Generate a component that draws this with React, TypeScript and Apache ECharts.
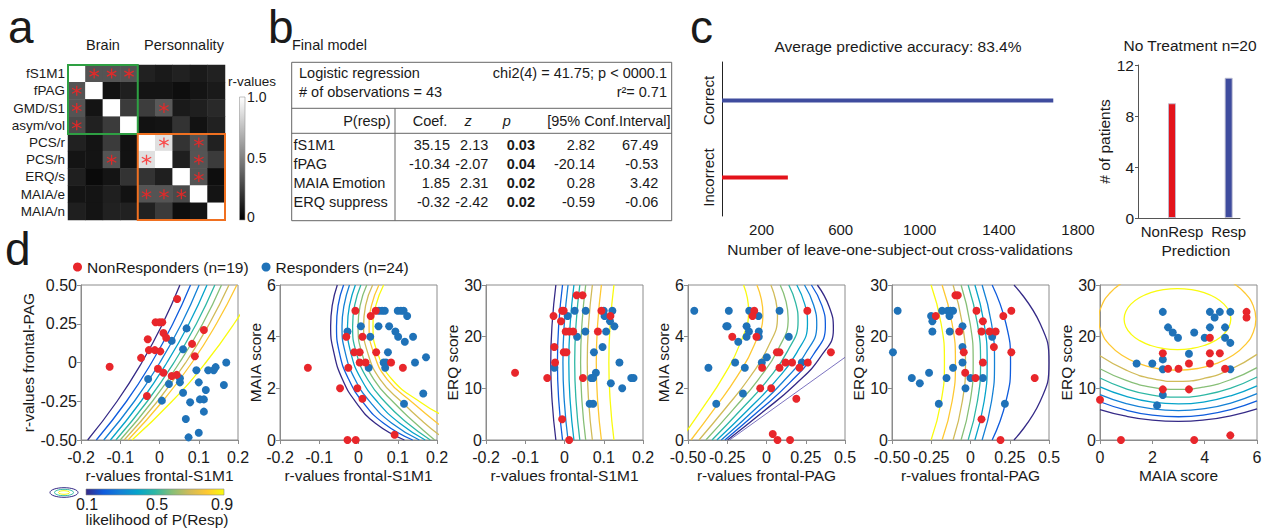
import React, { useEffect, useRef } from 'react';
import * as echarts from 'echarts';

const FONT = 'Arial, "Liberation Sans", Helvetica, sans-serif';
const INK = '#1a1a1a';
const AXIS_GRAY = '#8c8c8c';
const RED = '#e8262b';
const BLUE = '#1f72b8';
const BAR_RED = '#e3131b';
const BAR_BLUE = '#3f4c9e';
// six-armed asterisk used to flag significant cells
const ASTERISK = 'path://M44 0L56 0L56 100L44 100ZM3.7 30.2L9.7 19.8L96.3 69.8L90.3 80.2ZM90.3 19.8L96.3 30.2L9.7 80.2L3.7 69.8Z';

/* ---------- a : correlation matrix ---------- */
const measureNames = ['fS1M1', 'fPAG', 'GMD/S1', 'asym/vol', 'PCS/r', 'PCS/h', 'ERQ/s', 'MAIA/e', 'MAIA/n'];
const correlationRows = [
  [1, 0.33, 0.33, 0.33, 0.13, 0.1, 0.13, 0.1, 0.13],
  [0.33, 1, 0.07, 0.12, 0.08, 0.08, 0.055, 0.08, 0.1],
  [0.33, 0.08, 1, 0.23, 0.24, 0.35, 0.1, 0.12, 0.16],
  [0.29, 0.13, 0.23, 1, 0.07, 0.08, 0.2, 0.07, 0.13],
  [0.13, 0.08, 0.23, 0.07, 1, 0.88, 0.2, 0.33, 0.13],
  [0.08, 0.08, 0.33, 0.07, 0.88, 1, 0.12, 0.33, 0.23],
  [0.12, 0.04, 0.08, 0.2, 0.2, 0.12, 1, 0.33, 0.055],
  [0.08, 0.08, 0.12, 0.07, 0.33, 0.33, 0.29, 1, 0.08],
  [0.12, 0.08, 0.13, 0.13, 0.13, 0.23, 0.055, 0.08, 1],
];
// [column, row] of significant correlations
const significantPairs = [
  [1, 0], [2, 0], [3, 0], [0, 1], [0, 2], [5, 2], [0, 3], [5, 4], [7, 4],
  [2, 5], [4, 5], [7, 5], [7, 6], [4, 7], [5, 7], [6, 7],
];

/* ---------- b : logistic regression ---------- */
const modelTerms = ['fS1M1', 'fPAG', 'MAIA Emotion', 'ERQ suppress'];
const coefficients = [35.15, -10.34, 1.85, -0.32];
const zScores = [2.13, -2.07, 2.31, -2.42];
const pValues = [0.03, 0.04, 0.02, 0.02];
const ciLower = [2.82, -20.14, 0.28, -0.59];
const ciUpper = [67.49, -0.53, 3.42, -0.06];

/* ---------- c : cross-validation ---------- */
const validationOutcomes = ['Incorrect', 'Correct'];
const validationCounts = [333, 1675];
const predictionClasses = ['NonResp', 'Resp'];
const predictedPatients = [9, 11];

/* ---------- d : subjects ---------- */
const s1m1PagRed = [[0.045, 0.41], [-0.01, 0.26], [0.0, 0.26], [0.007, 0.26], [0.113, 0.21], [0.01, 0.19], [0.017, 0.16], [-0.03, 0.15], [0.083, 0.12], [-0.027, 0.08], [-0.012, 0.08], [0.002, 0.072], [-0.047, 0.03], [0.09, 0.04], [-0.127, -0.027], [-0.004, -0.04], [0.01, -0.066], [0.031, -0.087], [0.044, -0.08], [-0.032, -0.216]];
const s1m1PagBlue = [[0.069, 0.22], [0.031, 0.14], [0.06, 0.085], [0.17, 0.0], [0.094, -0.05], [0.124, -0.05], [0.138, -0.05], [0.143, -0.03], [-0.029, -0.106], [0.052, -0.102], [0.052, -0.128], [0.1, -0.128], [0.024, -0.139], [0.118, -0.177], [0.164, -0.145], [0.006, -0.246], [0.06, -0.195], [0.103, -0.238], [0.113, -0.238], [0.078, -0.257], [0.113, -0.317], [0.067, -0.364], [0.1, -0.453], [0.074, -0.483]];

const s1m1MaiaRed = [[-0.008, 5.0], [0.044, 5.0], [0.031, 4.8], [-0.031, 4.0], [0.01, 4.0], [-0.011, 3.4], [0.003, 3.4], [0.045, 3.4], [0.003, 3.0], [0.018, 3.0], [0.083, 3.0], [-0.129, 2.8], [-0.026, 2.8], [0.113, 2.8], [-0.047, 2.0], [-0.003, 2.0], [0.01, 1.6], [0.092, 0.2], [-0.028, 0], [-0.007, 0]];
const s1m1MaiaBlue = [[0.052, 5.0], [0.06, 5.0], [0.067, 5.0], [0.1, 5.0], [0.108, 5.0], [0.115, 5.0], [0.124, 4.8], [-0.028, 4.2], [0.006, 4.4], [0.051, 4.4], [0.078, 4.4], [0.094, 4.2], [0.101, 4.0], [0.118, 3.8], [0.03, 4.0], [0.139, 4.0], [0.075, 3.4], [0.172, 3.2], [0.064, 3.0], [0.07, 3.0], [0.144, 3.0], [0.026, 2.8], [0.068, 2.8], [0.165, 1.8], [0.116, 1.4]];

const s1m1ErqRed = [[0.031, 28], [0.046, 28], [-0.006, 25], [-0.002, 25], [0.094, 25], [0.117, 24], [-0.028, 24], [-0.009, 23], [0.003, 21], [0.012, 21], [0.022, 21], [0.085, 21], [-0.026, 18], [-0.002, 17], [0.005, 17], [-0.024, 15], [-0.126, 13], [-0.044, 12], [0.047, 12], [-0.006, 4], [0.012, 0]];
const s1m1ErqBlue = [[0.026, 25], [0.054, 25], [0.1, 25], [0.122, 25], [0.102, 24], [0.116, 23], [0.127, 22], [0.008, 24], [0.032, 20], [0.053, 21], [0.106, 21], [0.097, 18], [0.075, 17], [-0.026, 14], [0.08, 13], [0.068, 12], [0.073, 12], [0.17, 12], [0.176, 12], [0.14, 15], [0.118, 11], [0.147, 10], [0.064, 7], [0.073, 7]];

const pagMaiaRed = [[-0.078, 5.0], [-0.089, 4.8], [-0.064, 4.0], [-0.218, 4.0], [0.066, 3.4], [0.083, 3.4], [0.26, 5.0], [0.41, 3.4], [0.121, 3.0], [0.163, 3.0], [0.263, 3.0], [-0.028, 2.8], [0.083, 2.8], [0.21, 2.8], [-0.04, 2.0], [0.03, 2.0], [0.19, 1.6], [0.04, 0.23], [0.07, 0], [0.15, 0]];
const pagMaiaBlue = [[-0.46, 5.0], [-0.24, 5.0], [-0.11, 5.0], [0.083, 5.0], [-0.256, 4.4], [-0.248, 4.4], [-0.127, 4.4], [-0.112, 4.2], [-0.051, 4.8], [-0.049, 4.2], [-0.049, 4.0], [-0.127, 4.0], [0.142, 4.0], [-0.18, 3.8], [0.002, 3.2], [-0.03, 3.0], [-0.2, 3.0], [-0.37, 2.8], [-0.138, 2.8], [0.225, 3.0], [-0.15, 1.8], [-0.32, 1.4]];

const pagErqRed = [[-0.096, 28], [-0.081, 28], [-0.221, 24], [0.038, 25], [0.209, 24], [0.26, 25], [0.079, 23], [-0.072, 21], [0.07, 21], [0.121, 21], [0.16, 21], [-0.043, 17], [0.149, 18], [0.26, 17], [0.079, 15], [-0.034, 13], [0.032, 12], [0.409, 12], [0.07, 4], [0.191, 0]];
const pagErqBlue = [[-0.464, 25], [-0.494, 17], [-0.251, 24], [-0.243, 23], [-0.243, 21], [-0.181, 25], [-0.145, 25], [-0.128, 25], [-0.111, 25], [-0.134, 24], [-0.132, 21], [-0.051, 22], [-0.051, 18], [-0.051, 15], [-0.111, 14], [-0.374, 12], [-0.323, 11], [-0.264, 13], [-0.153, 12], [0.0, 12], [0.079, 12], [-0.032, 10], [-0.202, 7], [0.138, 20], [0.219, 7]];

const maiaErqRed = [[5.6, 24.8], [5.6, 23.7], [4.2, 19.8], [2.4, 16.8], [4.2, 16.8], [4.58, 16.8], [3.4, 14.8], [4.2, 14.8], [2.6, 13.8], [3.0, 13.8], [4.78, 13.8], [2.4, 9.8], [3.4, 9.8], [0, 7.8], [0.8, 0], [3.6, 0], [4.98, 0.9]];
const maiaErqBlue = [[2.4, 24.8], [4.2, 24.8], [4.58, 24.8], [4.98, 24.8], [4.38, 23.7], [2.6, 21.8], [2.78, 20.8], [2.98, 19.8], [3.6, 20.8], [4.0, 19.8], [4.2, 21.8], [4.78, 21.8], [4.78, 19.8], [4.98, 18.8], [3.4, 16.7], [2.4, 15.6], [1.4, 14.8], [2.0, 14.8], [2.4, 13.7], [4.98, 13.7], [2.4, 8.7], [2.18, 6.7]];

/* iso-likelihood lines, levels 0.1 ... 0.9 */
const contourLevels = [0.1, 0.2, 0.3, 0.4, 0.5, 0.6, 0.7, 0.8, 0.9];
const parula = ['#352a87', '#0f5cdd', '#1481d6', '#06a4ca', '#2eb7a4', '#87bf77', '#d1bb59', '#fec832', '#f9fb0e'];

const s1m1PagContours = [
  [[-0.183, -0.5], [-0.108, -0.25], [-0.045, 0], [0.008, 0.25], [0.052, 0.5]],
  [[-0.161, -0.5], [-0.084, -0.25], [-0.02, 0], [0.034, 0.25], [0.079, 0.5]],
  [[-0.142, -0.5], [-0.064, -0.25], [0.001, 0], [0.056, 0.25], [0.101, 0.5]],
  [[-0.125, -0.5], [-0.047, -0.25], [0.019, 0], [0.075, 0.25], [0.121, 0.5]],
  [[-0.111, -0.5], [-0.031, -0.25], [0.037, 0], [0.094, 0.25], [0.141, 0.5]],
  [[-0.1, -0.5], [-0.018, -0.25], [0.051, 0], [0.11, 0.25], [0.158, 0.5]],
  [[-0.09, -0.5], [-0.005, -0.25], [0.067, 0], [0.127, 0.25], [0.177, 0.5]],
  [[-0.08, -0.5], [0.008, -0.25], [0.083, 0], [0.145, 0.25], [0.197, 0.5]],
  [[-0.07, -0.5], [0.032, -0.25], [0.118, 0], [0.19, 0.25], [0.25, 0.5]],
];
const s1m1MaiaContours = [
  [[-0.054, 6], [-0.067, 5.2], [-0.071, 4.4], [-0.063, 3.4], [-0.041, 2.35], [-0.005, 1.43], [0.043, 0.65], [0.117, 0]],
  [[-0.038, 6], [-0.052, 5.2], [-0.056, 4.4], [-0.049, 3.4], [-0.025, 2.35], [0.013, 1.43], [0.064, 0.65], [0.138, 0]],
  [[-0.023, 6], [-0.037, 5.2], [-0.042, 4.4], [-0.034, 3.4], [-0.009, 2.35], [0.032, 1.43], [0.085, 0.65], [0.155, 0]],
  [[-0.008, 6], [-0.023, 5.2], [-0.028, 4.4], [-0.02, 3.4], [0.007, 2.35], [0.051, 1.43], [0.105, 0.65], [0.17, 0]],
  [[0.006, 6], [-0.01, 5.2], [-0.015, 4.4], [-0.006, 3.4], [0.023, 2.35], [0.07, 1.43], [0.125, 0.65], [0.183, 0]],
  [[0.021, 6], [0.004, 5.2], [-0.001, 4.4], [0.008, 3.4], [0.039, 2.35], [0.091, 1.43], [0.145, 0.65], [0.194, 0]],
  [[0.036, 6], [0.018, 5.2], [0.013, 4.4], [0.023, 3.4], [0.055, 2.35], [0.113, 1.43], [0.165, 0.7], [0.205, 0.2]],
  [[0.052, 6], [0.033, 5.2], [0.027, 4.4], [0.038, 3.4], [0.073, 2.35], [0.139, 1.43], [0.205, 0.6]],
  [[0.064, 6], [0.044, 5.2], [0.037, 4.4], [0.048, 3.4], [0.085, 2.35], [0.161, 1.43], [0.208, 1.0]],
];
const s1m1ErqContours = [
  [[-0.022, 30], [-0.0315, 22.5], [-0.035, 15], [-0.0315, 7.5], [-0.022, 0]],
  [[-0.005, 30], [-0.0145, 22.5], [-0.018, 15], [-0.0145, 7.5], [-0.005, 0]],
  [[0.009, 30], [-0.0005, 22.5], [-0.004, 15], [-0.0005, 7.5], [0.009, 0]],
  [[0.024, 30], [0.0145, 22.5], [0.011, 15], [0.0145, 7.5], [0.024, 0]],
  [[0.039, 30], [0.0295, 22.5], [0.026, 15], [0.0295, 7.5], [0.039, 0]],
  [[0.054, 30], [0.0445, 22.5], [0.041, 15], [0.0445, 7.5], [0.054, 0]],
  [[0.071, 30], [0.0615, 22.5], [0.058, 15], [0.0615, 7.5], [0.071, 0]],
  [[0.094, 30], [0.0845, 22.5], [0.081, 15], [0.0845, 7.5], [0.094, 0]],
  [[0.126, 30], [0.1165, 22.5], [0.113, 15], [0.1165, 7.5], [0.126, 0]],
];
const pagMaiaContours = [
  [[-0.248, 0], [-0.026, 1.075], [0.183, 2.15], [0.345, 3.225], [0.426, 4.3], [0.4, 5.15], [0.324, 6]],
  [[-0.265, 0], [-0.054, 1.1], [0.145, 2.2], [0.298, 3.3], [0.375, 4.4], [0.353, 5.2], [0.286, 6]],
  [[-0.288, 0], [-0.087, 1.1125], [0.101, 2.225], [0.247, 3.3375], [0.32, 4.45], [0.3, 5.225], [0.242, 6]],
  [[-0.316, 0], [-0.125, 1.125], [0.053, 2.25], [0.192, 3.375], [0.261, 4.5], [0.244, 5.25], [0.193, 6]],
  [[-0.347, 0], [-0.166, 1.15], [0.004, 2.3], [0.135, 3.45], [0.201, 4.6], [0.186, 5.3], [0.142, 6]],
  [[-0.386, 0], [-0.213, 1.175], [-0.051, 2.35], [0.075, 3.525], [0.138, 4.7], [0.125, 5.35], [0.087, 6]],
  [[-0.43, 0], [-0.265, 1.2], [-0.11, 2.4], [0.01, 3.6], [0.07, 4.8], [0.059, 5.4], [0.028, 6]],
  [[-0.481, 0], [-0.33, 1.225], [-0.188, 2.45], [-0.078, 3.675], [-0.023, 4.9], [-0.033, 5.45], [-0.061, 6]],
  [[-0.549, 0], [-0.405, 1.25], [-0.271, 2.5], [-0.167, 3.75], [-0.114, 5.0], [-0.122, 5.5], [-0.146, 6]],
];
const pagMaiaBoundary = [[-0.235, 0], [0.5, 3.2]];
const pagErqContours = [
  [[0.277, 30], [0.444, 22.5], [0.5, 15], [0.444, 7.5], [0.277, 0]],
  [[0.138, 30], [0.226, 22.5], [0.255, 15], [0.226, 7.5], [0.138, 0]],
  [[0.074, 30], [0.134, 22.5], [0.153, 15], [0.134, 7.5], [0.074, 0]],
  [[0.028, 30], [0.087, 22.5], [0.106, 15], [0.087, 7.5], [0.028, 0]],
  [[-0.015, 30], [0.044, 22.5], [0.064, 15], [0.044, 7.5], [-0.015, 0]],
  [[-0.06, 30], [-0.002, 22.5], [0.017, 15], [-0.002, 7.5], [-0.06, 0]],
  [[-0.111, 30], [-0.052, 22.5], [-0.032, 15], [-0.052, 7.5], [-0.111, 0]],
  [[-0.181, 30], [-0.117, 22.5], [-0.096, 15], [-0.117, 7.5], [-0.181, 0]],
  [[-0.251, 30], [-0.187, 22.5], [-0.166, 15], [-0.187, 7.5], [-0.251, 0]],
];
const maiaErqContours = [
  [[0, 5.9], [1, 4.6], [2, 3.83], [3, 3.59], [4, 3.88], [5, 4.69], [6, 6.03]],
  [[0, 7.4], [1, 5.77], [2, 4.81], [3, 4.5], [4, 4.86], [5, 5.88], [6, 7.56]],
  [[0, 8.8], [1, 7.05], [2, 6.01], [3, 5.68], [4, 6.07], [5, 7.16], [6, 8.97]],
  [[0, 10.3], [1, 8.44], [2, 7.33], [3, 6.98], [4, 7.39], [5, 8.56], [6, 10.48]],
  [[0, 12.0], [1, 9.91], [2, 8.67], [3, 8.28], [4, 8.74], [5, 10.05], [6, 12.2]],
  [[0, 13.8], [1, 11.54], [2, 10.2], [3, 9.78], [4, 10.28], [5, 11.69], [6, 14.02]],
  [[0, 16.3], [1, 13.52], [2, 11.87], [3, 11.35], [4, 11.96], [5, 13.7], [6, 16.57]],
  [[5.96, 23.4], [5.858, 25.96], [5.558, 28.35], [5.081, 30.4], [4.46, 31.97], [3.736, 32.96], [2.96, 33.3], [2.184, 32.96], [1.46, 31.97], [0.839, 30.4], [0.362, 28.35], [0.062, 25.96], [-0.04, 23.4], [0.062, 20.84], [0.362, 18.45], [0.839, 16.4], [1.46, 14.83], [2.184, 13.84], [2.96, 13.5], [3.736, 13.84], [4.46, 14.83], [5.081, 16.4], [5.558, 18.45], [5.858, 20.84], [5.96, 23.4]],
  [[5.0, 23.4], [4.93, 24.93], [4.727, 26.35], [4.402, 27.57], [3.98, 28.51], [3.488, 29.1], [2.96, 29.3], [2.432, 29.1], [1.94, 28.51], [1.518, 27.57], [1.193, 26.35], [0.99, 24.93], [0.92, 23.4], [0.99, 21.87], [1.193, 20.45], [1.518, 19.23], [1.94, 18.29], [2.432, 17.7], [2.96, 17.5], [3.488, 17.7], [3.98, 18.29], [4.402, 19.23], [4.727, 20.45], [4.93, 21.87], [5.0, 23.4]],
];

const S1M1_NAME = 'r-values frontal-S1M1';
const PAG_NAME = 'r-values frontal-PAG';
const fmtPag = (v: number) => (v === 0 ? '0' : v === 0.5 ? '0.5' : v.toFixed(2));
const fmtPagY = (v: number) => (v === 0 ? '0' : v.toFixed(2));

const panels = [
  { left: 81, red: s1m1PagRed, blue: s1m1PagBlue, contours: s1m1PagContours, x: [-0.2, 0.2, 0.1], y: [-0.5, 0.5, 0.25], xName: S1M1_NAME, yName: 'r-values frontal-PAG', yGap: 43, yFmt: fmtPagY },
  { left: 280, red: s1m1MaiaRed, blue: s1m1MaiaBlue, contours: s1m1MaiaContours, x: [-0.2, 0.2, 0.1], y: [0, 6, 2], xName: S1M1_NAME, yName: 'MAIA score', yGap: 15 },
  { left: 486, red: s1m1ErqRed, blue: s1m1ErqBlue, contours: s1m1ErqContours, x: [-0.2, 0.2, 0.1], y: [0, 30, 10], xName: S1M1_NAME, yName: 'ERQ score', yGap: 21 },
  { left: 688, red: pagMaiaRed, blue: pagMaiaBlue, contours: pagMaiaContours, extra: pagMaiaBoundary, x: [-0.5, 0.5, 0.25], y: [0, 6, 2], xName: PAG_NAME, yName: 'MAIA score', yGap: 17, xFmt: fmtPag },
  { left: 892, red: pagErqRed, blue: pagErqBlue, contours: pagErqContours, x: [-0.5, 0.5, 0.25], y: [0, 30, 10], xName: PAG_NAME, yName: 'ERQ score', yGap: 22, xFmt: fmtPag },
  { left: 1100, red: maiaErqRed, blue: maiaErqBlue, contours: maiaErqContours, x: [0, 6, 2], y: [0, 30, 10], xName: 'MAIA score', yName: 'ERQ score', yGap: 22 },
];

const NONRESP = 'NonResponders (n=19)';
const RESP = 'Responders (n=24)';

function label(text: string, x: number, y: number, size: number, extra: any = {}) {
  const align = extra.align || 'left';
  const v = extra.v || 'middle';
  return {
    type: 'text', x, y, silent: true, rotation: extra.rotation || 0,
    style: {
      text, fontSize: size, fontFamily: FONT, fill: extra.fill || INK,
      fontWeight: extra.weight || 'normal', fontStyle: extra.italic ? 'italic' : 'normal',
      align, verticalAlign: v, textAlign: align, textVerticalAlign: v,
    },
  };
}
function segment(x1: number, y1: number, x2: number, y2: number, stroke = '#555', lineWidth = 1) {
  return { type: 'line', silent: true, shape: { x1, y1, x2, y2 }, style: { stroke, lineWidth } };
}

function buildOption() {
  const heat = { left: 68, top: 65, width: 157, height: 155 };
  const cellW = heat.width / measureNames.length;
  const cellH = heat.height / measureNames.length;

  const heatData: number[][] = [];
  correlationRows.forEach((row, r) => row.forEach((v, c) => heatData.push([c, r, v])));

  const grids: any[] = [
    { ...heat },
    { left: 722, top: 62, width: 356, height: 154 },
    { left: 1138, top: 65, width: 102, height: 153 },
  ];
  const xAxes: any[] = [
    { type: 'category', gridIndex: 0, data: measureNames, show: false },
    {
      type: 'value', gridIndex: 1, min: 0, max: 1800, interval: 200,
      axisLine: { onZero: false, lineStyle: { color: '#222' } }, axisTick: { show: false }, splitLine: { show: false },
      axisLabel: { formatter: (v: number) => (v % 400 === 200 ? String(v) : ''), fontSize: 15, color: INK, margin: 6 },
      name: 'Number of leave-one-subject-out cross-validations', nameLocation: 'middle', nameGap: 25,
      nameTextStyle: { fontSize: 15.5, color: INK },
    },
    {
      type: 'value', gridIndex: 2, min: 0.4, max: 2.2, interval: 0.2,
      axisLine: { onZero: false, lineStyle: { color: '#555' } }, axisTick: { show: false }, splitLine: { show: false },
      axisLabel: {
        formatter: (v: number) => (Math.abs(v - 1) < 1e-6 ? predictionClasses[0] : Math.abs(v - 2) < 1e-6 ? predictionClasses[1] : ''),
        fontSize: 15, color: INK, margin: 6,
      },
    },
  ];
  const yAxes: any[] = [
    {
      type: 'category', gridIndex: 0, data: measureNames, inverse: true,
      axisLine: { show: false }, axisTick: { show: false }, axisLabel: { interval: 0, fontSize: 13.5, color: INK, margin: 3 },
    },
    {
      type: 'category', gridIndex: 1, data: validationOutcomes,
      axisLine: { show: true, lineStyle: { color: '#222' } }, axisTick: { show: false },
      axisLabel: { rotate: 90, fontSize: 15, color: INK, margin: 6 },
    },
    {
      type: 'value', gridIndex: 2, min: 0, max: 12, interval: 4,
      axisLine: { show: true, onZero: false, lineStyle: { color: '#555' } },
      axisTick: { show: true, length: 3, lineStyle: { color: '#555' } }, splitLine: { show: false },
      axisLabel: { fontSize: 15.5, color: INK, margin: 4 },
      name: '# of patients', nameLocation: 'middle', nameGap: 14, nameTextStyle: { fontSize: 15.5, color: INK },
    },
  ];

  const series: any[] = [
    { type: 'heatmap', xAxisIndex: 0, yAxisIndex: 0, data: heatData, silent: true, itemStyle: { borderWidth: 0 } },
    {
      type: 'scatter', xAxisIndex: 0, yAxisIndex: 0, data: significantPairs, symbol: ASTERISK, symbolSize: 10,
      silent: true, z: 5, itemStyle: { color: '#ff2020' },
    },
    {
      type: 'bar', xAxisIndex: 1, yAxisIndex: 1, barWidth: 4, silent: true,
      data: validationCounts.map((v, i) => ({ value: v, itemStyle: { color: i === 0 ? BAR_RED : BAR_BLUE } })),
    },
    {
      type: 'bar', xAxisIndex: 2, yAxisIndex: 2, barWidth: 8, silent: true,
      data: predictedPatients.map((v, i) => ({
        value: [i + 1, v],
        itemStyle: { color: i === 0 ? BAR_RED : BAR_BLUE, borderColor: 'rgba(190,190,210,0.9)', borderWidth: 1 },
      })),
    },
  ];

  panels.forEach((p, k) => {
    const gi = k + 3;
    grids.push({ left: p.left, top: 285, width: 157, height: 155, show: true, borderColor: AXIS_GRAY, borderWidth: 1 });
    xAxes.push({
      type: 'value', gridIndex: gi, min: p.x[0], max: p.x[1], interval: p.x[2],
      axisLine: { onZero: false, lineStyle: { color: AXIS_GRAY } },
      axisTick: { show: true, length: 4, lineStyle: { color: AXIS_GRAY } }, splitLine: { show: false },
      axisLabel: { fontSize: 16, color: INK, margin: 9, formatter: p.xFmt },
      name: p.xName, nameLocation: 'middle', nameGap: 27, nameTextStyle: { fontSize: 15.5, color: INK },
    });
    yAxes.push({
      type: 'value', gridIndex: gi, min: p.y[0], max: p.y[1], interval: p.y[2],
      axisLine: { onZero: false, lineStyle: { color: AXIS_GRAY } },
      axisTick: { show: true, length: 4, lineStyle: { color: AXIS_GRAY } }, splitLine: { show: false },
      axisLabel: { fontSize: 16, color: INK, margin: 4, formatter: p.yFmt },
      name: p.yName, nameLocation: 'middle', nameGap: p.yGap, nameTextStyle: { fontSize: 15.5, color: INK },
    });
    p.contours.forEach((line, li) => {
      series.push({
        type: 'line', xAxisIndex: gi, yAxisIndex: gi, data: line, smooth: true, symbol: 'none',
        silent: true, z: 2, clip: true, name: 'p=' + contourLevels[li],
        lineStyle: { color: parula[li], width: 1.3 },
      });
    });
    if (p.extra) {
      series.push({
        type: 'line', xAxisIndex: gi, yAxisIndex: gi, data: p.extra, symbol: 'none', silent: true, z: 2, clip: true,
        lineStyle: { color: '#5b4fb0', width: 0.8 },
      });
    }
    series.push({
      type: 'scatter', name: RESP, xAxisIndex: gi, yAxisIndex: gi, data: p.blue, symbolSize: 8, clip: false, z: 3,
      itemStyle: { color: BLUE, opacity: 1 }, silent: true,
    });
    series.push({
      type: 'scatter', name: NONRESP, xAxisIndex: gi, yAxisIndex: gi, data: p.red, symbolSize: 8, clip: false, z: 4,
      itemStyle: { color: RED, opacity: 1 }, silent: true,
    });
  });

  const heatRight = heat.left + heat.width;
  const heatBottom = heat.top + heat.height;
  const accuracy = (100 * validationCounts[1] / (validationCounts[0] + validationCounts[1])).toFixed(1);
  const nPatients = predictedPatients.reduce((a, b) => a + b, 0);

  // table geometry
  const tb = { left: 291.7, top: 62.3, right: 671.7, bottom: 220.7, h1: 108.3, h2: 133.3, v: 395 };
  const rowY = [145, 164.3, 183.3, 202.3];
  const fs = 14.5;

  const graphic: any[] = [
    // panel letters
    label('a', 8, 27, 46), label('b', 268, 27, 46), label('c', 690, 27, 46), label('d', 5, 249, 46),

    // a
    label('Brain', 103, 45, 14.5, { align: 'center' }),
    label('Personnality', 184, 45, 14.5, { align: 'center' }),
    {
      type: 'rect', silent: true, z: 10,
      shape: { x: heat.left, y: heat.top, width: cellW * 4, height: cellH * 4 },
      style: { fill: 'none', stroke: '#2ea043', lineWidth: 2 },
    },
    {
      type: 'rect', silent: true, z: 10,
      shape: { x: heat.left + cellW * 4, y: heat.top + cellH * 4, width: cellW * 5, height: cellH * 5 },
      style: { fill: 'none', stroke: '#f07020', lineWidth: 2 },
    },
    label('r-values', 228, 81, 13.5),
    {
      type: 'rect', silent: true,
      shape: { x: heatRight + 14.5, y: 97, width: 5.5, height: heatBottom - 97 },
      style: {
        fill: new echarts.graphic.LinearGradient(0, 0, 0, 1, [{ offset: 0, color: '#ffffff' }, { offset: 1, color: '#000000' }]),
        stroke: '#999', lineWidth: 0.6,
      },
    },
    label('1.0', 247, 97, 14), label('0.5', 247, 158, 14), label('0', 247, 217, 14),

    // b
    label('Final model', 292, 45, fs),
    { type: 'rect', silent: true, shape: { x: tb.left, y: tb.top, width: tb.right - tb.left, height: tb.bottom - tb.top }, style: { fill: 'none', stroke: '#666', lineWidth: 1 } },
    segment(tb.left, tb.h1, tb.right, tb.h1, '#666'),
    segment(tb.left, tb.h2, tb.right, tb.h2, '#666'),
    segment(tb.v, tb.h1, tb.v, tb.bottom, '#666'),
    label('Logistic regression', 299, 73.3, fs),
    label('chi2(4) = 41.75; p < 0000.1', 667, 73.3, fs, { align: 'right' }),
    label('# of observations = 43', 299, 91.7, fs),
    label('r\u00b2= 0.71', 667, 91.7, fs, { align: 'right' }),
    label('P(resp)', 390.7, 120.7, fs, { align: 'right' }),
    label('Coef.', 430, 120.7, fs, { align: 'center' }),
    label('z', 468, 120.7, fs, { align: 'center', italic: true }),
    label('p', 506.7, 120.7, fs, { align: 'center', italic: true }),
    label('[95% Conf.Interval]', 670.5, 120.7, fs, { align: 'right' }),
    ...modelTerms.flatMap((term, i) => [
      label(term, 293.5, rowY[i], fs),
      label(coefficients[i].toFixed(2), 450, rowY[i], fs, { align: 'right' }),
      label(zScores[i].toFixed(2), 488.3, rowY[i], fs, { align: 'right' }),
      label(pValues[i].toFixed(2), 535, rowY[i], fs, { align: 'right', weight: 'bold' }),
      label(ciLower[i].toFixed(2), 595, rowY[i], fs, { align: 'right' }),
      label(ciUpper[i].toFixed(2), 658.3, rowY[i], fs, { align: 'right' }),
    ]),

    // c
    label(`Average predictive accuracy: ${accuracy}%`, 898, 46, 15.5, { align: 'center' }),
    label(`No Treatment n=${nPatients}`, 1190, 45, 15.5, { align: 'center' }),
    label('Prediction', 1196, 250, 15.5, { align: 'center' }),

    // d colour key
    { type: 'ellipse', silent: true, shape: { cx: 64, cy: 492.5, rx: 14, ry: 4.8 }, style: { fill: 'none', stroke: parula[0], lineWidth: 1 } },
    { type: 'ellipse', silent: true, shape: { cx: 64, cy: 492.5, rx: 9.5, ry: 3.2 }, style: { fill: 'none', stroke: parula[4], lineWidth: 1 } },
    { type: 'ellipse', silent: true, shape: { cx: 64, cy: 492.5, rx: 5.5, ry: 1.8 }, style: { fill: 'none', stroke: parula[8], lineWidth: 1 } },
    {
      type: 'rect', silent: true, shape: { x: 86, y: 489, width: 138, height: 6 },
      style: {
        fill: new echarts.graphic.LinearGradient(0, 0, 1, 0, parula.map((c, i) => ({ offset: i / (parula.length - 1), color: c }))),
        stroke: '#888', lineWidth: 0.6,
      },
    },
    label(String(contourLevels[0]), 87, 504, 16, { align: 'center' }),
    label(String(contourLevels[4]), 157, 504, 16, { align: 'center' }),
    label(String(contourLevels[8]), 222, 504, 16, { align: 'center' }),
    label('likelihood of P(Resp)', 157, 519.5, 15.5, { align: 'center' }),
  ];

  return {
    animation: false,
    backgroundColor: '#ffffff',
    textStyle: { fontFamily: FONT },
    grid: grids,
    xAxis: xAxes,
    yAxis: yAxes,
    visualMap: [{
      type: 'continuous', show: false, seriesIndex: 0, dimension: 2, min: 0, max: 1,
      inRange: { color: ['#000000', '#ffffff'] },
    }],
    legend: {
      data: [NONRESP, RESP], left: 73, top: 259, padding: 0, itemGap: 13, itemWidth: 9, itemHeight: 9,
      icon: 'circle', selectedMode: false, textStyle: { fontSize: 15.5, color: INK, fontFamily: FONT },
    },
    series,
    graphic,
  };
}

export default function App() {
  const ref = useRef<HTMLDivElement>(null);
  useEffect(() => {
    if (!ref.current) return;
    const chart = echarts.init(ref.current, undefined, { renderer: 'svg' });
    chart.setOption(buildOption() as any);
    return () => chart.dispose();
  }, []);
  return <div ref={ref} style={{ position: 'absolute', left: 0, top: 0, width: 1265, height: 529 }} />;
}
